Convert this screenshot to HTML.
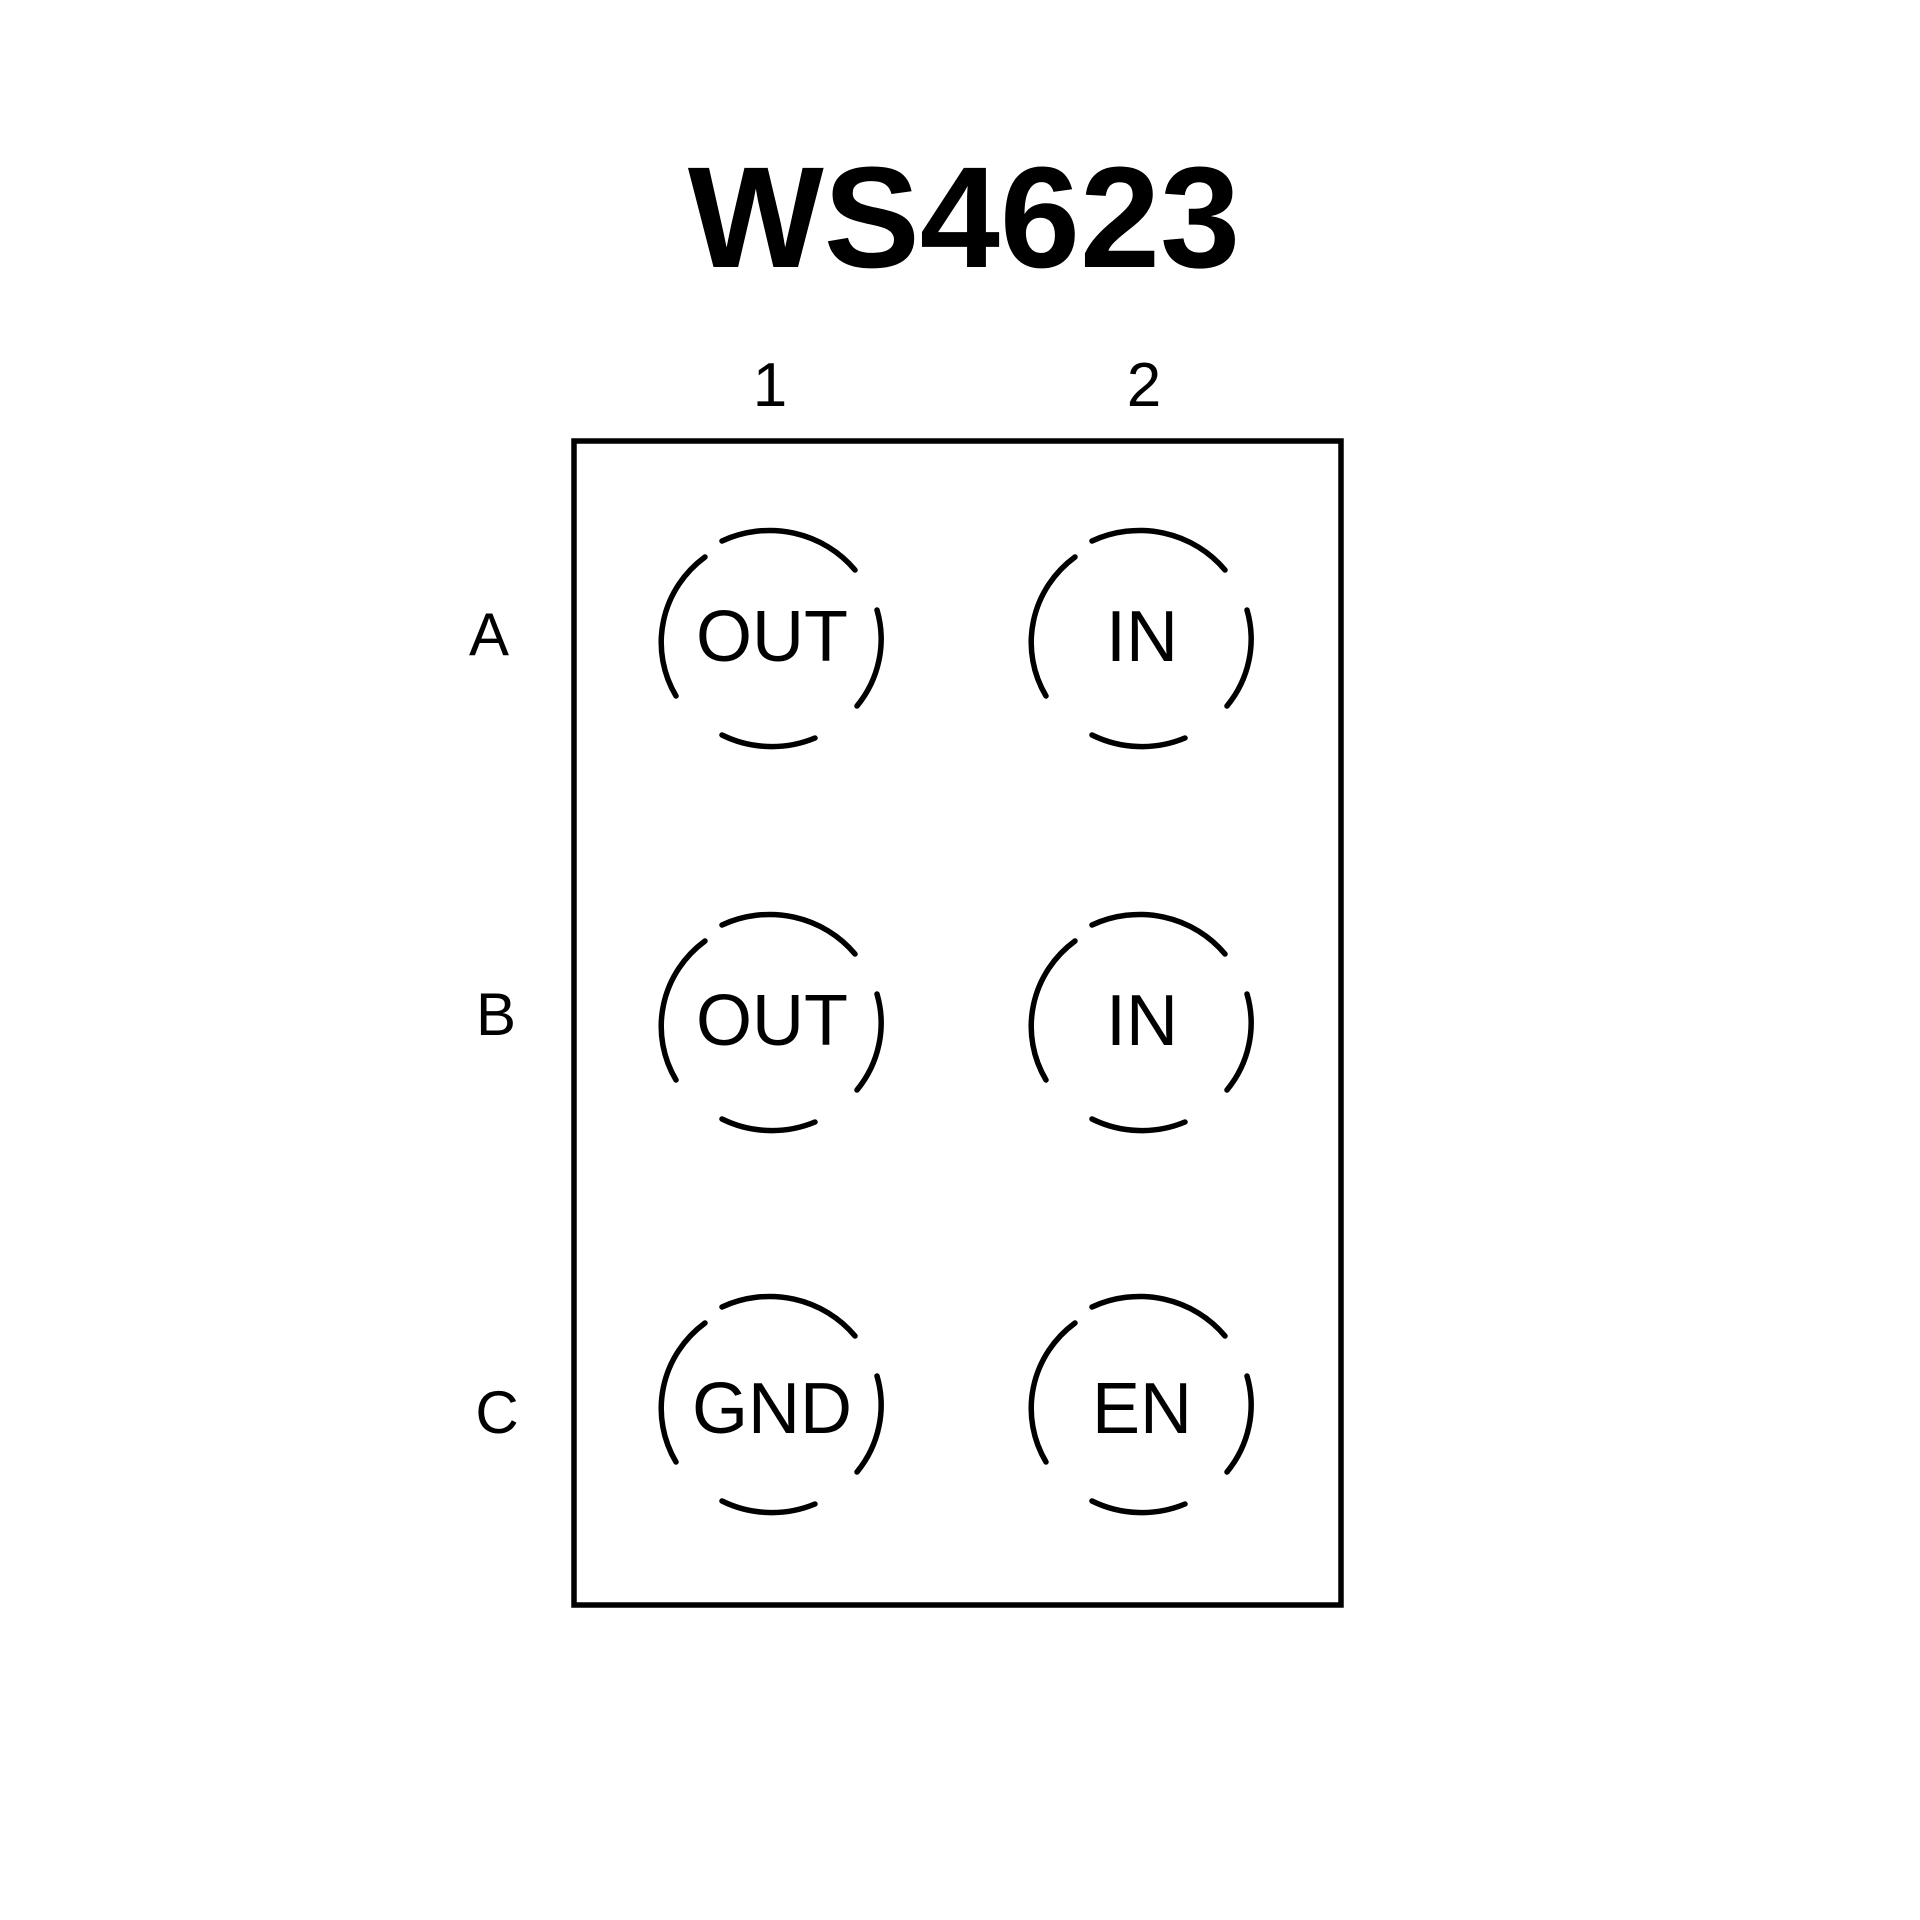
<!DOCTYPE html>
<html><head><style>
html,body{margin:0;padding:0;background:#fff;}
svg{display:block}
text{font-family:"Liberation Sans",sans-serif;fill:#000}
</style></head><body>
<svg width="1920" height="1920" viewBox="0 0 1920 1920" xmlns="http://www.w3.org/2000/svg">
<text x="964" y="267" font-size="144" font-weight="bold" text-anchor="middle">WS4623</text>
<text x="770" y="406" font-size="62" text-anchor="middle">1</text>
<text x="1144" y="406" font-size="62" text-anchor="middle">2</text>
<text x="489" y="655" font-size="60" text-anchor="middle">A</text>
<text x="496" y="1035" font-size="60" text-anchor="middle">B</text>
<text x="497" y="1433" font-size="60" text-anchor="middle">C</text>
<rect x="574" y="441" width="767" height="1164" fill="none" stroke="#000" stroke-width="5.5"/>
<text x="772" y="661" font-size="72" text-anchor="middle">OUT</text>
<text x="1142" y="661" font-size="72" text-anchor="middle">IN</text>
<text x="772" y="1045" font-size="72" text-anchor="middle">OUT</text>
<text x="1142" y="1045" font-size="72" text-anchor="middle">IN</text>
<text x="772" y="1433" font-size="72" text-anchor="middle">GND</text>
<text x="1142" y="1433" font-size="72" text-anchor="middle">EN</text>
<path fill="none" stroke="#000" stroke-width="5.5" stroke-linecap="round" d="
M 722 541 A 110 107 0 0 1 855 570
M 705 557 A 110 107 0 0 0 676 696
M 877 610 A 110 107 0 0 1 857 706
M 722 735 A 110 107 0 0 0 815 738
M 1092 541 A 110 107 0 0 1 1225 570
M 1075 557 A 110 107 0 0 0 1046 696
M 1247 610 A 110 107 0 0 1 1227 706
M 1092 735 A 110 107 0 0 0 1185 738
M 722 925 A 110 107 0 0 1 855 954
M 705 941 A 110 107 0 0 0 676 1080
M 877 994 A 110 107 0 0 1 857 1090
M 722 1119 A 110 107 0 0 0 815 1122
M 1092 925 A 110 107 0 0 1 1225 954
M 1075 941 A 110 107 0 0 0 1046 1080
M 1247 994 A 110 107 0 0 1 1227 1090
M 1092 1119 A 110 107 0 0 0 1185 1122
M 722 1307 A 110 107 0 0 1 855 1336
M 705 1323 A 110 107 0 0 0 676 1462
M 877 1376 A 110 107 0 0 1 857 1472
M 722 1501 A 110 107 0 0 0 815 1504
M 1092 1307 A 110 107 0 0 1 1225 1336
M 1075 1323 A 110 107 0 0 0 1046 1462
M 1247 1376 A 110 107 0 0 1 1227 1472
M 1092 1501 A 110 107 0 0 0 1185 1504
"/>
</svg>
</body></html>
